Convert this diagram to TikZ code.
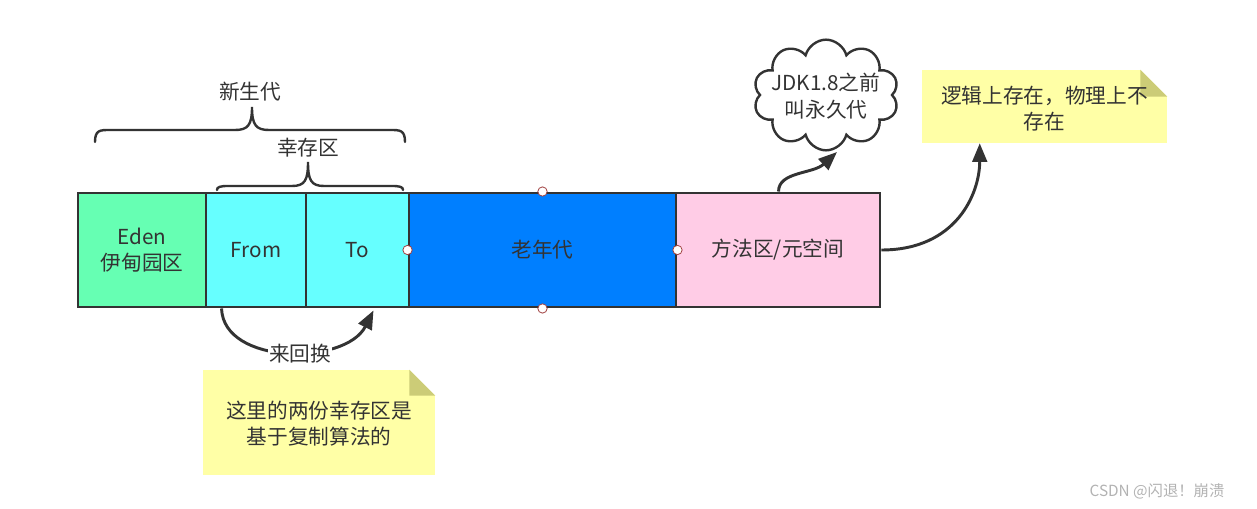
\documentclass[tikz,border=0pt]{standalone}
\usepackage{fontspec}
\setmainfont{Noto Sans CJK SC}
\usetikzlibrary{fit,calc,shapes.symbols,arrows.meta}
\definecolor{ink}{HTML}{333333}
\definecolor{edenc}{HTML}{66FFB3}
\definecolor{survc}{HTML}{66FFFF}
\definecolor{oldc}{HTML}{007FFF}
\definecolor{methc}{HTML}{FFCCE6}
\definecolor{notec}{HTML}{FFFFA6}
\definecolor{foldc}{HTML}{CCCC77}
\definecolor{handle}{HTML}{A04040}
\begin{document}
\begin{tikzpicture}[x=0.75pt,y=-0.75pt,
  every node/.style={text=ink,font=\fontsize{15.5}{20}\selectfont},
  box/.style={draw=ink,line width=2.2pt,inner sep=0pt,align=center},
  brace/.style={draw=ink,line width=1.8pt,line cap=round},
  conn/.style={draw=ink,line width=2.2pt,-{Triangle[length=14pt,width=11pt]}},
  notebox/.style={fill=notec,inner sep=0pt},
  handlept/.style={circle,draw=handle,fill=white,line width=0.6pt,minimum size=7pt,inner sep=0pt},
  lbl/.style={align=center}]
\useasboundingbox (0,0) rectangle (1257,509);
% boxes
\node[box,fill=edenc,fit={(78,193)(206,307)}] (eden) {};
\node[lbl] at (eden.center) {Eden\\伊甸园区};
\node[box,fill=survc,fit={(206,193)(306,307)}] (from) {};
\node at (from.center) {From};
\node[box,fill=survc,fit={(306,193)(409,307)}] (to) {};
\node at (to.center) {To};
\node[box,fill=oldc,fit={(409,193)(676,307)}] (old) {};
\node at (old.center) {老年代};
\node[box,fill=methc,fit={(676,193)(880,307)}] (meth) {};
\node at (meth.center) {方法区/元空间};
% handles
\foreach \a in {north,south,west,east} \node[handlept] at (old.\a) {};
% braces
\node (young) at (250,92) {新生代};
\draw[brace] (95,142) .. controls (95,130) and (100,130) .. (110,130) -- (235,130) .. controls (248,130) and (252,125) .. (252,107)
  .. controls (252,125) and (256,130) .. (269,130) -- (390,130) .. controls (400,130) and (405,130) .. (405,142);
\node (surv) at (308,148) {幸存区};
\draw[brace] (217,190) .. controls (217,187) and (220,186) .. (228,186) -- (292,186) .. controls (305,186) and (308,180) .. (308,162)
  .. controls (308,180) and (311,186) .. (324,186) -- (392,186) .. controls (400,186) and (403,187) .. (403,190);
% swap arrow
\coordinate (swapA) at ($(from.south west)+(17,0)$);
\coordinate (swapB) at ($(to.south)+(16,2)$);
\draw[conn] (swapA) .. controls ($(swapA)+(2,57)$) and ($(swapB)+(-28,55)$) .. (swapB);
\node[fill=white,inner sep=1pt] (swap) at (300,354) {来回换};
% note 1
\node[notebox,fit={(203,370)(435,475)}] (note1) {};
\fill[white] (note1.north east) -- ++(-26,0) -- ++(26,26) -- cycle;
\fill[foldc] ($(note1.north east)+(-26,0)$) -- ++(0,26) -- ++(26,0) -- cycle;
\node[lbl] at ($(note1.center)+(0,1)$) {这里的两份幸存区是\\基于复制算法的};
% cloud
\node[cloud,cloud puffs=10,aspect=1.3,draw=ink,line width=1.8pt,fill=white,minimum width=109pt,minimum height=83pt,inner sep=0pt] (cloud) at (826,95) {};
\node[lbl] (cloudtxt) at ($(cloud.center)+(0,1)$) {JDK1.8之前\\叫永久代};
% note 2
\node[notebox,fit={(922,70)(1167,143)}] (note2) {};
\fill[white] (note2.north east) -- ++(-27,0) -- ++(27,27) -- cycle;
\fill[foldc] ($(note2.north east)+(-27,0)$) -- ++(0,27) -- ++(27,0) -- cycle;
\node[lbl] at ($(note2.center)+(0,2)$) {逻辑上存在，物理上不\\存在};
% arrows from method area
\coordinate (mtop) at ($(meth.north west)+(104,0)$);
\coordinate (ctip) at (837,152);
\draw[conn] (mtop) .. controls ($(mtop)+(0,-20)$) and ($(ctip)+(-24,22)$) .. (ctip);
\draw[conn] (meth.east) .. controls ($(meth.east)+(75,0)$) and ($(note2.south west)+(58,50)$) .. ($(note2.south west)+(58,0)$);
% watermark
\node[text=black!30,font=\fontsize{11.5}{13}\selectfont] (wm) at (1157,491) {CSDN @闪退！崩溃};
\end{tikzpicture}
\end{document}
